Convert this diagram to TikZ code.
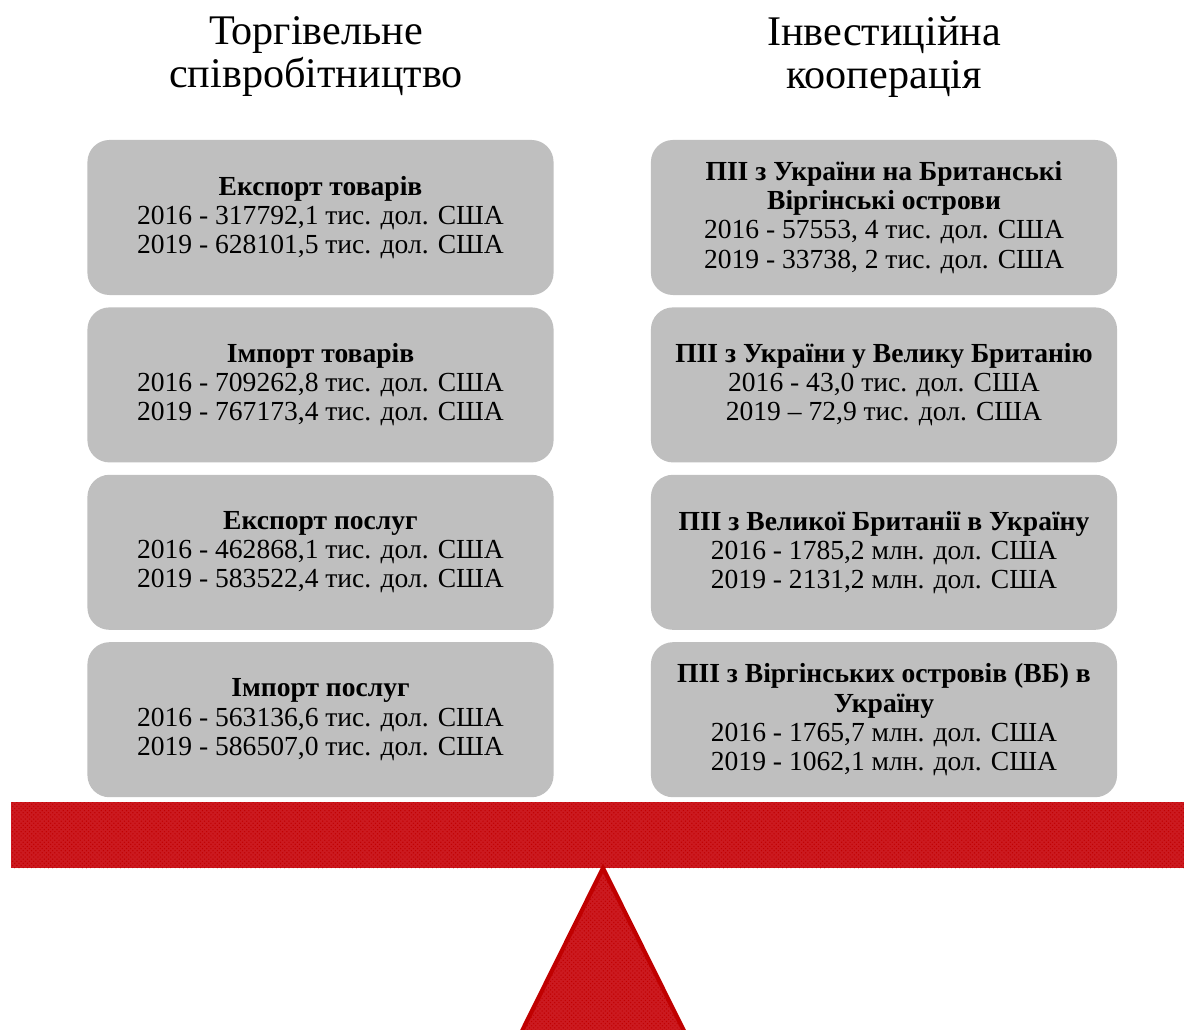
\documentclass[tikz,border=0pt]{standalone}
\usepackage{fontspec}
\setmainfont{Liberation Serif}
\usetikzlibrary{positioning,patterns}
\definecolor{boxgray}{RGB}{191,191,191}
\definecolor{beamred}{RGB}{204,26,32}
\definecolor{darkred}{RGB}{192,0,0}
\begin{document}
\begin{tikzpicture}[x=0.025cm,y=-0.025cm,
    box/.style={rectangle,rounded corners=0.55cm,fill=boxgray,minimum width=11.65cm,minimum height=3.875cm,
      align=center,inner sep=2pt,font=\fontsize{19.6}{20.7}\selectfont,node distance=0.295cm},
    heading/.style={align=center,font=\fontsize{30}{30.6}\selectfont}]
  \useasboundingbox (0,0) rectangle (1184,1030);
  % titles
  \node[heading] (trade) at (316,57) {Торгівельне\\співробітництво};
  \node[heading] (invest) at (884,57) {Інвестиційна\\кооперація};
  % left column
  \node[box] (ext) at (320.5,217.5) {\textbf{Експорт товарів}\\2016 - 317792,1 тис. дол. США\\2019 - 628101,5 тис. дол. США};
  \node[box,below=of ext] (imt) {\textbf{Імпорт товарів}\\2016 - 709262,8 тис. дол. США\\2019 - 767173,4 тис. дол. США};
  \node[box,below=of imt] (exs) {\textbf{Експорт послуг}\\2016 - 462868,1 тис. дол. США\\2019 - 583522,4 тис. дол. США};
  \node[box,below=of exs] (ims) {\textbf{Імпорт послуг}\\2016 - 563136,6 тис. дол. США\\2019 - 586507,0 тис. дол. США};
  % right column
  \node[box] (pii1) at (884,217.5) {\textbf{ПІІ з України на Британські}\\\textbf{Віргінські острови}\\2016 - 57553, 4 тис. дол. США\\2019 - 33738, 2 тис. дол. США};
  \node[box,below=of pii1] (pii2) {\textbf{ПІІ з України у Велику Британію}\\2016 - 43,0 тис. дол. США\\2019 – 72,9 тис. дол. США};
  \node[box,below=of pii2] (pii3) {\textbf{ПІІ з Великої Британії в Україну}\\2016 - 1785,2 млн. дол. США\\2019 - 2131,2 млн. дол. США};
  \node[box,below=of pii3] (pii4) {\textbf{ПІІ з Віргінських островів (ВБ) в}\\\textbf{Україну}\\2016 - 1765,7 млн. дол. США\\2019 - 1062,1 млн. дол. США};
  % scales
  \fill[beamred] (11,802) rectangle (1184,868);
  \fill[pattern=crosshatch dots,pattern color=darkred] (11,802) rectangle (1184,868);
  \coordinate (apex) at (603,868);
  \filldraw[fill=beamred,draw=darkred,line width=3pt,line join=miter] (apex) -- (686,1035) -- (520,1035) -- cycle;
  \fill[pattern=crosshatch dots,pattern color=darkred] (apex) -- (686,1035) -- (520,1035) -- cycle;
\end{tikzpicture}
\end{document}
